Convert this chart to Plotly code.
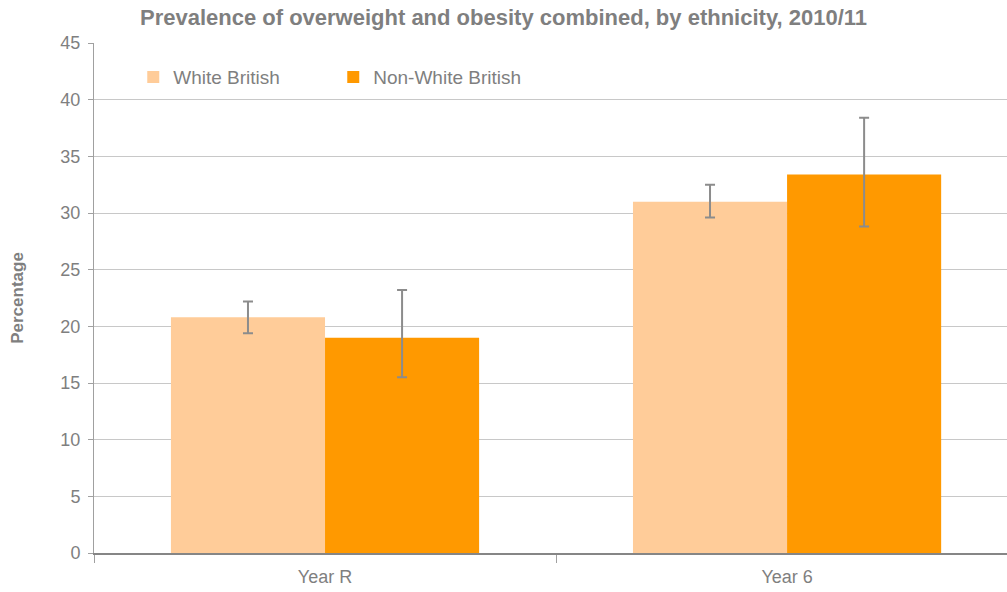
import plotly.graph_objects as go

categories = ["Year R", "Year 6"]
white_british = [20.8, 31.0]
white_british_hi = [22.2, 32.5]
white_british_lo = [19.4, 29.6]
non_white_british = [19.0, 33.4]
non_white_british_hi = [23.2, 38.4]
non_white_british_lo = [15.5, 28.8]

grey = "#7f7f7f"
font_family = "Liberation Sans, Arial, sans-serif"


def err(vals, hi, lo):
    return dict(
        type="data",
        symmetric=False,
        array=[h - v for h, v in zip(hi, vals)],
        arrayminus=[v - l for v, l in zip(vals, lo)],
        color="#8c8c8c",
        thickness=2,
        width=5,
    )


fig = go.Figure()
fig.add_trace(go.Bar(
    x=categories, y=white_british, name="White British",
    marker_color="#ffcc99", marker_line_width=0,
    error_y=err(white_british, white_british_hi, white_british_lo),
))
fig.add_trace(go.Bar(
    x=categories, y=non_white_british, name="Non-White British",
    marker_color="#ff9900", marker_line_width=0,
    error_y=err(non_white_british, non_white_british_hi, non_white_british_lo),
))

fig.update_layout(
    width=1007,
    height=592,
    margin={"l": 94, "r": 0, "t": 43, "b": 39, "autoexpand": False},
    paper_bgcolor="white",
    plot_bgcolor="white",
    barmode="group",
    bargap=0.333,
    bargroupgap=0,
    font=dict(family=font_family, color=grey, size=18),
    title=dict(
        text="<b>Prevalence of overweight and obesity combined, by ethnicity, 2010/11</b>",
        x=0.5, xanchor="center", y=0.97, yanchor="middle",
        font=dict(size=22, color=grey),
    ),
    legend=dict(
        orientation="h",
        x=0.043, y=0.933, xanchor="left", yanchor="middle",
        bgcolor="rgba(0,0,0,0)",
        font=dict(size=19, color=grey),
        entrywidth=155,
        itemwidth=30,
    ),
    showlegend=True,
)

# the plot area runs past the right edge of the picture, as in the original
fig.update_xaxes(
    range=[-0.5, 1.476],
    showline=True, linecolor="#868686", linewidth=2,
    ticks="outside", tickson="boundaries", ticklen=8, tickcolor="#a0a0a0",
    tickfont=dict(size=18, color=grey),
    ticklabelstandoff=6,
    showgrid=False,
)
fig.update_yaxes(
    range=[0, 45], dtick=5,
    showline=True, linecolor="#a0a0a0", linewidth=1,
    ticks="outside", ticklen=5, tickcolor="#a0a0a0",
    ticklabelstandoff=4,
    gridcolor="#c8c8c8", gridwidth=1,
    tickfont=dict(size=18, color=grey),
    title=dict(text="<b>Percentage</b>", font=dict(size=17, color=grey), standoff=32),
    zeroline=False,
)

fig.write_html(
    "out.html",
    config={"displayModeBar": False},
    post_script="document.body.style.margin='0';",
)
